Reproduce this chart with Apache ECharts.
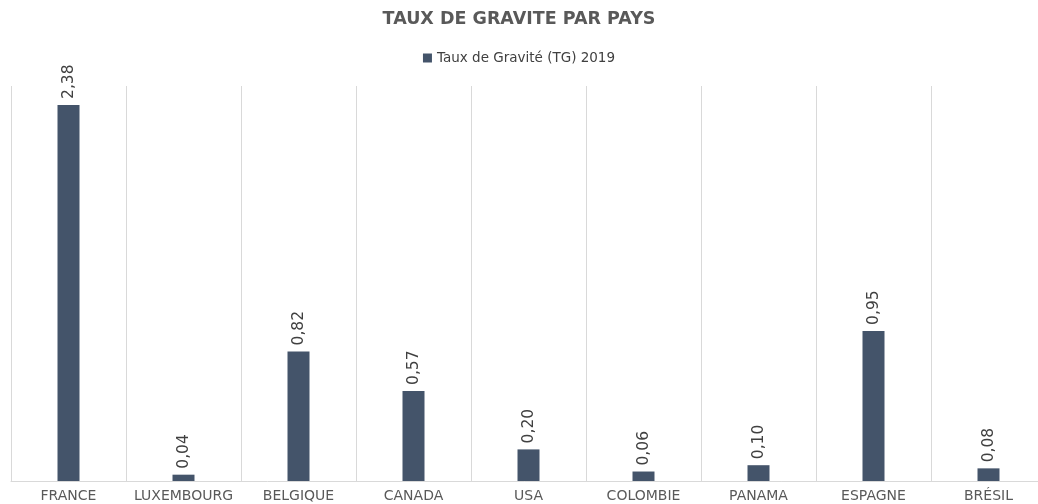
<!DOCTYPE html>
<html>
<head>
<meta charset="utf-8">
<script src="https://cdn.jsdelivr.net/npm/echarts@6/dist/echarts.min.js"></script>
<style>
html,body{margin:0;padding:0;background:#fff;}
#chart{width:1038px;height:504px;}
</style>
</head>
<body>
<div id="chart"></div>
<script>
var pays=['FRANCE','LUXEMBOURG','BELGIQUE','CANADA','USA','COLOMBIE','PANAMA','ESPAGNE','BRÉSIL'];
var tg2019=[2.38,0.04,0.82,0.57,0.20,0.06,0.10,0.95,0.08];

var myChart=echarts.init(document.getElementById('chart'))
myChart.setOption({
    animation:false,
    title:{
        text:'TAUX DE GRAVITE PAR PAYS',
        left:'center',
        top:5,
        textStyle:{fontFamily:'DejaVu Sans',fontSize:17.5,fontWeight:'bold',color:'#595959'}
    },
    legend:{
        data:['Taux de Gravité (TG) 2019'],
        top:46,
        left:'center',
        icon:'rect',
        itemWidth:9,
        itemHeight:9,
        itemGap:5,
        textStyle:{fontFamily:'DejaVu Sans',fontSize:13.5,color:'#404040'}
    },
    grid:{left:11,top:86,width:1035,height:395,outerBoundsMode:'none',containLabel:false},
    xAxis:{
        type:'category',
        data:pays,
        axisLine:{lineStyle:{color:'#d9d9d9'}},
        axisTick:{show:false},
        splitLine:{show:true,lineStyle:{color:'#d9d9d9'}},
        axisLabel:{fontFamily:'DejaVu Sans',fontSize:14,color:'#595959',margin:8,interval:0}
    },
    yAxis:{type:'value',min:0,max:2.5,show:false,splitLine:{show:false}},
    series:[
        {
            name:'Taux de Gravité (TG) 2019',
            type:'bar',
            barWidth:22,
            itemStyle:{color:'#44546A'},
            label:{
                show:true,
                position:'top',
                rotate:90,
                align:'left',
                verticalAlign:'middle',
                distance:6,
                fontFamily:'DejaVu Sans',
                fontSize:15.5,
                color:'#404040',
                formatter:function(p){return p.value.toFixed(2).replace('.',',')}
            },
            data:tg2019
        }
    ]
})
</script>
</body>
</html>
